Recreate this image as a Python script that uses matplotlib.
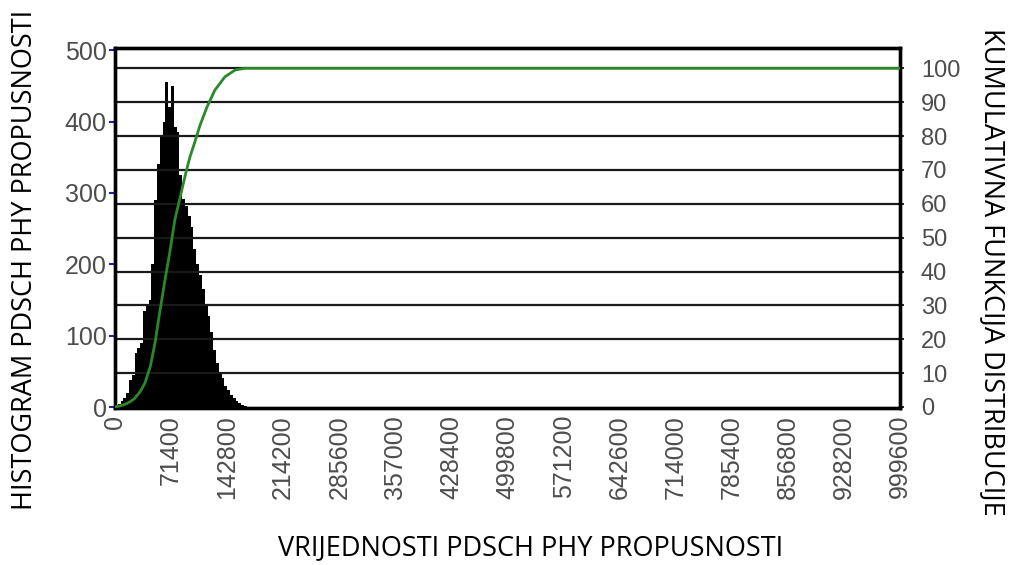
import numpy as np
import matplotlib
matplotlib.use("Agg")
import matplotlib.pyplot as plt

# Histogram of PDSCH PHY throughput values (bin width 3570)
bin_width = 3570
hist_counts = [2, 4, 8, 12, 20, 38, 45, 75, 82, 90,
               135, 142, 150, 200, 290, 340, 380, 400, 455, 420,
               450, 392, 385, 325, 292, 282, 268, 252, 222, 200,
               185, 165, 145, 128, 105, 80, 62, 48, 40, 30,
               24, 17, 13, 9, 6, 3, 1]

# Cumulative distribution function (percent)
cdf_x = [0, 6000, 13000, 19000, 25000, 32000, 38000, 45000, 51000, 57000,
         64000, 70000, 76000, 83000, 89000, 95000, 102000, 108000, 117000,
         127000, 140000, 153000, 165000, 999600]
cdf_y = [0, 0.3, 0.8, 1.5, 2.5, 4.5, 7, 12, 19, 28,
         38, 46, 55, 62, 68, 73.5, 78.5, 83, 88.5,
         93.5, 97.5, 99.5, 100, 100]

x_ticks = [0, 71400, 142800, 214200, 285600, 357000, 428400, 499800,
           571200, 642600, 714000, 785400, 856800, 928200, 999600]
left_ticks = [0, 100, 200, 300, 400, 500]
right_ticks = [0, 10, 20, 30, 40, 50, 60, 70, 80, 90, 100]

tick_font = "Liberation Sans"
label_font = "Open Sans"
tick_color = "#4d4d4d"

fig = plt.figure(figsize=(10.12, 5.65), dpi=100)
ax = fig.add_axes([115 / 1012, 1 - 408 / 565, 785 / 1012, 360 / 565])
ax2 = ax.twinx()

edges = np.arange(len(hist_counts)) * bin_width
ax.bar(edges, hist_counts, width=bin_width, align="edge",
       color="black", edgecolor="none", zorder=2)

ax.set_xlim(0, 999600)
ax.set_ylim(-1.4, 503)
ax2.set_ylim(-0.3, 106)

# horizontal grid following the right-hand scale
for v in right_ticks[1:]:
    ax2.axhline(v, color="#1a1a1a", lw=1.6, zorder=1)

ax2.plot(cdf_x, cdf_y, color="#2a8a2a", lw=2.0, zorder=3)

ax.set_xticks(x_ticks)
ax.set_xticklabels([str(v) for v in x_ticks], rotation=90,
                   fontsize=18, family=tick_font, color=tick_color)
ax.tick_params(axis="x", length=0, pad=5)

ax.set_yticks(left_ticks)
ax.set_yticklabels([str(v) for v in left_ticks], fontsize=18,
                   family=tick_font, color=tick_color)
ax.tick_params(axis="y", length=4, width=1.5, color="#2020b0", pad=2)

ax2.set_yticks(right_ticks)
ax2.set_yticklabels([str(v) for v in right_ticks], fontsize=17,
                    family=tick_font, color=tick_color)
ax2.tick_params(axis="y", length=3, width=1.2, color="black", pad=12)

for a in (ax, ax2):
    for sp in a.spines.values():
        sp.set_linewidth(2.4)
        sp.set_color("black")

fig.text(531 / 1012, 1 - 548 / 565, "VRIJEDNOSTI PDSCH PHY PROPUSNOSTI",
         ha="center", va="center", fontsize=19.5, family=label_font)
fig.text(25 / 1012, 1 - 260 / 565, "HISTOGRAM PDSCH PHY PROPUSNOSTI",
         ha="center", va="center", rotation=90, fontsize=19.5, family=label_font)
fig.text(992 / 1012, 1 - 272 / 565, "KUMULATIVNA FUNKCIJA DISTRIBUCIJE",
         ha="center", va="center", rotation=-90, fontsize=19.5, family=label_font)

fig.savefig("out.png", dpi=100)
